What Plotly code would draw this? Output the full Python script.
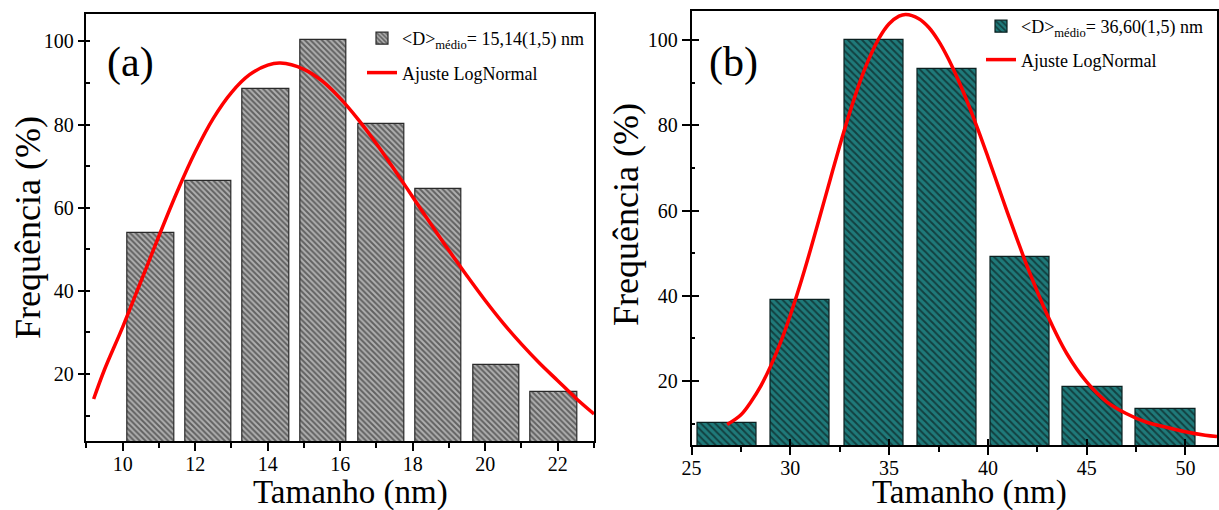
import plotly.graph_objects as go

# ---------------- data: panel (a) ----------------
a_x = [10.78, 12.37, 13.95, 15.54, 17.13, 18.71, 20.30, 21.89]
a_freq = [54.0, 66.5, 88.6, 100.3, 80.2, 64.4, 22.2, 15.8]
a_fit_x = [9.2, 9.5, 10, 10.5, 11, 11.5, 12, 12.5, 13, 13.5, 14, 14.35, 15, 15.5,
           16, 16.5, 17, 17.5, 18, 18.5, 19, 19.5, 20, 20.5, 21, 21.5, 22, 22.5, 23]
a_fit_y = [14.0, 21.1, 31.3, 42.2, 53.2, 63.8, 73.4, 81.5, 87.7, 92.0, 94.3, 94.8, 93.3, 90.5,
           86.3, 81.2, 75.4, 69.1, 62.6, 56.1, 49.7, 43.6, 37.7, 32.2, 27.2, 22.6, 18.4, 14.2, 10.4]
a_xticks = [10, 12, 14, 16, 18, 20, 22]

# ---------------- data: panel (b) ----------------
b_x = [26.8, 30.5, 34.24, 37.93, 41.63, 45.3, 49.0]
b_freq = [10.1, 38.9, 100.0, 93.2, 49.0, 18.6, 13.5]
b_fit_x = [26.8, 27.5, 28, 28.5, 29, 29.5, 30, 30.5, 31, 31.5, 32, 32.5, 33, 33.5, 34, 34.5,
           35, 35.5, 35.85, 36.5, 37, 37.5, 38, 38.5, 39, 39.5, 40, 40.5, 41, 41.5, 42, 43,
           44, 45, 46, 47, 48, 49, 50, 51, 51.6]
b_fit_y = [9.8, 12.1, 15.1, 18.8, 23.5, 29.0, 35.5, 42.7, 50.5, 58.7, 67.0, 75.2, 82.9, 89.9,
           95.8, 100.5, 103.8, 105.6, 106.0, 105.0, 103.0, 99.8, 95.6, 90.6, 85.0, 79.0, 72.6,
           66.0, 59.4, 53.0, 46.8, 35.6, 26.4, 19.8, 15.2, 12.4, 10.4, 9.2, 8.1, 7.3, 7.0]
b_xticks = [25, 30, 35, 40, 45, 50]

y_ticks = [20, 40, 60, 80, 100]

a_label = "&lt;D&gt;<sub>médio</sub>= 15,14(1,5) nm"
b_label = "&lt;D&gt;<sub>médio</sub>= 36,60(1,5) nm"
fit_label = "Ajuste LogNormal"

FONT = "Liberation Serif"
W, H = 1219, 510

fig = go.Figure()

fig.add_trace(go.Bar(
    x=a_x, y=a_freq, width=1.28, name=a_label, xaxis="x", yaxis="y",
    marker=dict(color="#a8a8a8", line=dict(color="#2a2a2a", width=1.2),
                pattern=dict(shape="\\", fgcolor="#111111", bgcolor="#b0b0b0", size=4, solidity=0.5)),
    legend="legend", legendgroup="a1",
))
fig.add_trace(go.Scatter(
    x=a_fit_x, y=a_fit_y, mode="lines", name=fit_label, xaxis="x", yaxis="y",
    line=dict(color="#ff0000", width=3.5, shape="spline"),
    legend="legend", legendgroup="a2",
))
fig.add_trace(go.Bar(
    x=b_x, y=b_freq, width=3.0, name=b_label, xaxis="x2", yaxis="y2",
    marker=dict(color="#1f7676", line=dict(color="#0a2020", width=1.2),
                pattern=dict(shape="\\", fgcolor="#050505", bgcolor="#1f7a7a", size=5, solidity=0.4)),
    legend="legend2", legendgroup="b1",
))
fig.add_trace(go.Scatter(
    x=b_fit_x, y=b_fit_y, mode="lines", name=fit_label, xaxis="x2", yaxis="y2",
    line=dict(color="#ff0000", width=3.5, shape="spline"),
    legend="legend2", legendgroup="b2",
))
# empty helper trace so the inward-tick overlay axes of panel (b) are drawn
fig.add_trace(go.Scatter(x=[None], y=[None], xaxis="x3", yaxis="y3", mode="lines",
                         showlegend=False, hoverinfo="skip"))

tickfont = dict(family=FONT, size=20, color="black")
common = dict(showline=True, linecolor="black", linewidth=1.5, mirror=True,
              ticks="outside", tickcolor="black", tickwidth=1.5, showgrid=False,
              zeroline=False, tickfont=tickfont, automargin=False)
overlay = dict(showline=False, ticks="inside", tickcolor="black", tickwidth=1.5,
               showgrid=False, zeroline=False, showticklabels=False, automargin=False)

fig.update_layout(
    width=W, height=H,
    margin=dict(l=0, r=0, t=0, b=0, autoexpand=False),
    paper_bgcolor="white", plot_bgcolor="white",
    bargap=0,
    xaxis=dict(domain=[86.4 / W, 594 / W], range=[9, 23], anchor="y",
               tickvals=a_xticks, ticklen=8, ticklabelstandoff=-4,
               minor=dict(dtick=1, tick0=9, ticks="outside", ticklen=5, tickcolor="black"),
               **common),
    yaxis=dict(domain=[1 - 441 / H, 1 - 14 / H], range=[3.9, 106.6], anchor="x",
               tickvals=y_ticks, ticklen=7,
               minor=dict(dtick=10, tick0=0, ticks="inside", ticklen=4, tickcolor="black"),
               **common),
    xaxis2=dict(domain=[691.6 / W, 1217 / W], range=[25, 51.6], anchor="y2",
                tickvals=b_xticks, ticklen=8, ticklabelstandoff=-4,
                minor=dict(dtick=2.5, tick0=25, ticks="outside", ticklen=5, tickcolor="black"),
                **common),
    yaxis2=dict(domain=[1 - 445 / H, 1 - 11 / H], range=[5, 106.8], anchor="x2",
                tickvals=y_ticks, ticklen=8,
                minor=dict(dtick=10, tick0=0, ticks="inside", ticklen=4, tickcolor="black"),
                **common),
    xaxis3=dict(overlaying="x2", anchor="y3", side="bottom", range=[25, 51.6],
                tickvals=b_xticks, ticklen=6, **overlay),
    yaxis3=dict(overlaying="y2", anchor="x3", side="left", range=[5, 106.8],
                tickvals=y_ticks, ticklen=7, **overlay),
    legend=dict(x=362 / W, y=1 - 20 / H, xanchor="left", yanchor="top",
                font=dict(family=FONT, size=18, color="black"), bgcolor="rgba(0,0,0,0)",
                tracegroupgap=8, traceorder="grouped"),
    legend2=dict(x=981 / W, y=1 - 8 / H, xanchor="left", yanchor="top",
                 font=dict(family=FONT, size=18, color="black"), bgcolor="rgba(0,0,0,0)",
                 tracegroupgap=7, traceorder="grouped"),
    annotations=[
        dict(text="(a)", x=130.5 / W, y=1 - 62 / H, xref="paper", yref="paper",
             showarrow=False, font=dict(family=FONT, size=42, color="black"),
             xanchor="center", yanchor="middle"),
        dict(text="(b)", x=733 / W, y=1 - 62 / H, xref="paper", yref="paper",
             showarrow=False, font=dict(family=FONT, size=42, color="black"),
             xanchor="center", yanchor="middle"),
        dict(text="Frequência (%)", x=28 / W, y=1 - 228 / H, xref="paper", yref="paper",
             showarrow=False, textangle=-90, font=dict(family=FONT, size=36, color="black"),
             xanchor="center", yanchor="middle"),
        dict(text="Frequência (%)", x=626 / W, y=1 - 215 / H, xref="paper", yref="paper",
             showarrow=False, textangle=-90, font=dict(family=FONT, size=36, color="black"),
             xanchor="center", yanchor="middle"),
        dict(text="Tamanho (nm)", x=350 / W, y=1 - 492 / H, xref="paper", yref="paper",
             showarrow=False, font=dict(family=FONT, size=33, color="black"),
             xanchor="center", yanchor="middle"),
        dict(text="Tamanho (nm)", x=969 / W, y=1 - 492 / H, xref="paper", yref="paper",
             showarrow=False, font=dict(family=FONT, size=33, color="black"),
             xanchor="center", yanchor="middle"),
    ],
)

fig.write_html("out.html", config={"displayModeBar": False},
               post_script="document.body.style.margin='0';")
